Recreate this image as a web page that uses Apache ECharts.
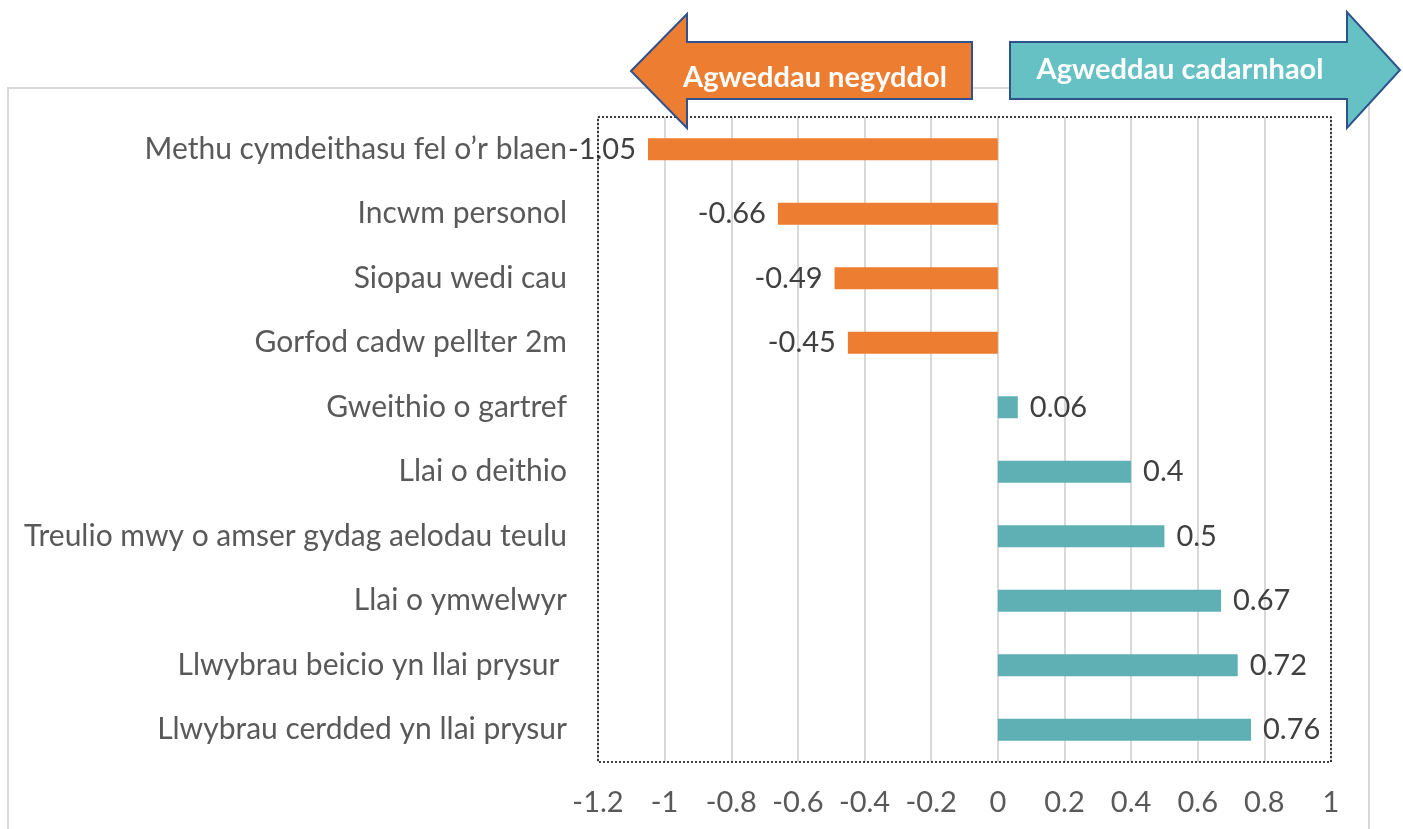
<!DOCTYPE html>
<html>
<head>
<meta charset="utf-8">
<script src="https://cdn.jsdelivr.net/npm/echarts@6/dist/echarts.min.js"></script>
<style>
  html, body { margin: 0; padding: 0; background: #fff; }
  #chart { width: 1403px; height: 829px; }
</style>
</head>
<body>
<div id="chart"></div>
<script>
var categories = [
  'Methu cymdeithasu fel o\u2019r blaen',
  'Incwm personol',
  'Siopau wedi cau',
  'Gorfod cadw pellter 2m',
  'Gweithio o gartref',
  'Llai o deithio',
  'Treulio mwy o amser gydag aelodau teulu',
  'Llai o ymwelwyr',
  'Llwybrau beicio yn llai prysur ',
  'Llwybrau cerdded yn llai prysur'
];
var values = [-1.05, -0.66, -0.49, -0.45, 0.06, 0.4, 0.5, 0.67, 0.72, 0.76];
var arrowLabels = ['Agweddau negyddol', 'Agweddau cadarnhaol'];

var FONT = 'Lato';
var orange = '#ED7D31';
var teal = '#5FB0B4';

var chart = echarts.init(document.getElementById('chart'));

// plot area box, also used for the dotted frame
var plot = { left: 598, top: 117, right: 1331, bottom: 762 };

var option = {
  animation: false,
  textStyle: { fontFamily: FONT },
  grid: {
    left: plot.left, right: 1403 - plot.right, top: plot.top, bottom: 829 - plot.bottom
  },
  xAxis: {
    type: 'value',
    min: -1.2,
    max: 1,
    interval: 0.2,
    axisLine: { show: false },
    axisTick: { show: false },
    axisLabel: {
      fontSize: 29, color: '#595959', fontFamily: FONT, margin: 26,
      formatter: function (v) { return String(Math.round(v * 10) / 10); }
    },
    splitLine: { show: true, lineStyle: { color: '#d9d9d9', width: 2 } }
  },
  yAxis: {
    type: 'category',
    inverse: true,
    data: categories,
    axisLine: { show: false },
    axisTick: { show: false },
    axisLabel: { fontSize: 30, color: '#595959', fontFamily: FONT, margin: 31 }
  },
  series: [{
    type: 'bar',
    barWidth: 22,
    data: values.map(function (v) {
      return {
        value: v,
        itemStyle: { color: v < 0 ? orange : teal },
        label: { position: v < 0 ? 'left' : 'right' }
      };
    }),
    label: {
      show: true,
      fontSize: 29,
      color: '#404040',
      fontFamily: FONT,
      distance: 12
    }
  }],
  graphic: [
    {
      type: 'rect', z: -10, silent: true,
      shape: { x: 8, y: 88, width: 1361, height: 760 },
      style: { fill: 'none', stroke: '#d9d9d9', lineWidth: 2 }
    },
    {
      type: 'rect', z: 50, silent: true,
      shape: { x: plot.left, y: plot.top, width: plot.right - plot.left, height: plot.bottom - plot.top },
      style: { fill: 'none', stroke: '#000', lineWidth: 1.5, lineDash: [2, 2] }
    },
    {
      type: 'polygon', z: 100,
      shape: { points: [[631, 71], [687, 14], [687, 42], [972, 42], [972, 99], [687, 99], [687, 128]] },
      style: { fill: orange, stroke: '#2F528F', lineWidth: 2 }
    },
    {
      type: 'text', z: 101,
      x: 815, y: 78,
      style: {
        text: arrowLabels[0], fill: '#fff', font: 'bold 29px ' + FONT,
        align: 'center', verticalAlign: 'middle'
      }
    },
    {
      type: 'polygon', z: 100,
      shape: { points: [[1010, 42], [1347, 42], [1347, 12], [1400, 70], [1347, 128], [1347, 99], [1010, 99]] },
      style: { fill: '#65C1C4', stroke: '#2F528F', lineWidth: 2 }
    },
    {
      type: 'text', z: 101,
      x: 1180, y: 70,
      style: {
        text: arrowLabels[1], fill: '#fff', font: 'bold 29px ' + FONT,
        align: 'center', verticalAlign: 'middle'
      }
    }
  ]
};

chart.setOption(option);
</script>
</body>
</html>
